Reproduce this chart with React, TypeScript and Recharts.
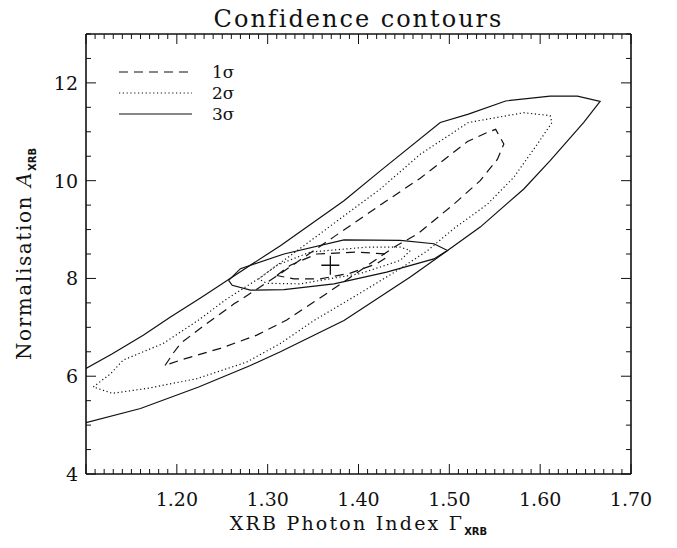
import React from 'react';
import { ScatterChart, Scatter, XAxis, YAxis, Legend } from 'recharts';

// big confidence regions (gamma vs normalisation)
const sigma1 = [
  { x: 1.187, y: 6.22 }, { x: 1.196, y: 6.47 }, { x: 1.204, y: 6.67 }, { x: 1.233, y: 7.08 },
  { x: 1.263, y: 7.48 }, { x: 1.288, y: 7.78 }, { x: 1.314, y: 8.10 }, { x: 1.372, y: 8.84 },
  { x: 1.431, y: 9.59 }, { x: 1.468, y: 10.05 }, { x: 1.520, y: 10.80 }, { x: 1.542, y: 10.99 },
  { x: 1.551, y: 11.05 }, { x: 1.560, y: 10.75 }, { x: 1.553, y: 10.44 }, { x: 1.534, y: 10.00 },
  { x: 1.505, y: 9.52 }, { x: 1.465, y: 8.91 }, { x: 1.439, y: 8.64 }, { x: 1.380, y: 7.88 },
  { x: 1.321, y: 7.15 }, { x: 1.288, y: 6.84 }, { x: 1.248, y: 6.57 }, { x: 1.204, y: 6.33 },
  { x: 1.187, y: 6.22 },
];

const sigma2 = [
  { x: 1.108, y: 5.78 }, { x: 1.127, y: 6.05 }, { x: 1.141, y: 6.33 }, { x: 1.185, y: 6.67 },
  { x: 1.224, y: 7.15 }, { x: 1.255, y: 7.58 }, { x: 1.292, y: 8.02 }, { x: 1.350, y: 8.81 },
  { x: 1.424, y: 9.83 }, { x: 1.468, y: 10.54 }, { x: 1.521, y: 11.19 }, { x: 1.582, y: 11.39 },
  { x: 1.611, y: 11.33 }, { x: 1.613, y: 11.19 }, { x: 1.597, y: 10.75 }, { x: 1.571, y: 10.07 },
  { x: 1.542, y: 9.52 }, { x: 1.505, y: 9.02 }, { x: 1.476, y: 8.57 }, { x: 1.446, y: 8.20 },
  { x: 1.400, y: 7.68 }, { x: 1.351, y: 7.14 }, { x: 1.314, y: 6.67 }, { x: 1.277, y: 6.29 },
  { x: 1.222, y: 5.95 }, { x: 1.167, y: 5.75 }, { x: 1.129, y: 5.65 }, { x: 1.108, y: 5.78 },
];

const sigma3 = [
  { x: 1.100, y: 6.16 }, { x: 1.129, y: 6.46 }, { x: 1.163, y: 6.84 }, { x: 1.193, y: 7.21 },
  { x: 1.226, y: 7.60 }, { x: 1.257, y: 7.98 }, { x: 1.314, y: 8.67 }, { x: 1.384, y: 9.59 },
  { x: 1.424, y: 10.20 }, { x: 1.490, y: 11.19 }, { x: 1.521, y: 11.36 }, { x: 1.562, y: 11.63 },
  { x: 1.611, y: 11.73 }, { x: 1.641, y: 11.73 }, { x: 1.666, y: 11.62 }, { x: 1.648, y: 11.19 },
  { x: 1.611, y: 10.41 }, { x: 1.582, y: 9.83 }, { x: 1.534, y: 9.05 }, { x: 1.498, y: 8.57 },
  { x: 1.457, y: 8.03 }, { x: 1.384, y: 7.14 }, { x: 1.314, y: 6.50 }, { x: 1.281, y: 6.22 },
  { x: 1.224, y: 5.78 }, { x: 1.160, y: 5.34 }, { x: 1.100, y: 5.05 },
];

// small ellipses around the best fit
const ell1 = [
  { x: 1.310, y: 8.06 }, { x: 1.325, y: 8.27 }, { x: 1.354, y: 8.50 }, { x: 1.398, y: 8.54 },
  { x: 1.430, y: 8.50 }, { x: 1.431, y: 8.43 }, { x: 1.420, y: 8.30 }, { x: 1.391, y: 8.11 },
  { x: 1.358, y: 7.99 }, { x: 1.329, y: 7.99 }, { x: 1.310, y: 8.06 },
];

const ell2 = [
  { x: 1.290, y: 7.99 }, { x: 1.310, y: 8.27 }, { x: 1.347, y: 8.54 }, { x: 1.409, y: 8.64 },
  { x: 1.446, y: 8.64 }, { x: 1.457, y: 8.57 }, { x: 1.446, y: 8.37 }, { x: 1.402, y: 8.10 },
  { x: 1.336, y: 7.89 }, { x: 1.299, y: 7.90 }, { x: 1.290, y: 7.99 },
];

const ell3 = [
  { x: 1.257, y: 7.96 }, { x: 1.270, y: 8.20 }, { x: 1.318, y: 8.50 }, { x: 1.384, y: 8.79 },
  { x: 1.446, y: 8.78 }, { x: 1.483, y: 8.71 }, { x: 1.498, y: 8.57 }, { x: 1.483, y: 8.40 },
  { x: 1.431, y: 8.13 }, { x: 1.373, y: 7.89 }, { x: 1.318, y: 7.77 }, { x: 1.281, y: 7.76 },
  { x: 1.261, y: 7.86 }, { x: 1.257, y: 7.96 },
];

const bestFit = [{ x: 1.369, y: 8.27 }];

const xMajor = [1.1, 1.2, 1.3, 1.4, 1.5, 1.6, 1.7];
const xLabels = ['', '1.20', '1.30', '1.40', '1.50', '1.60', '1.70'];
const yMajor = [4, 6, 8, 10, 12];
const yLabels = ['4', '6', '8', '10', '12'];

const legendItems = [
  { label: '1σ', dash: '9 6' },
  { label: '2σ', dash: '1.2 2.6' },
  { label: '3σ', dash: undefined },
];

const FONT = 'DejaVu Serif';
const INK = '#111';
const DASH1 = '9 6';
const DOT2 = '1.2 2.6';

const xTicks: number[] = [];
for (let i = 110; i <= 170; i++) xTicks.push(i / 100);
const yTicks: number[] = [];
for (let i = 8; i <= 26; i++) yTicks.push(i / 2);

const xLabelOf = (v: number) => xMajor.findIndex((m) => Math.abs(m - v) < 1e-6);
const yLabelOf = (v: number) => yMajor.findIndex((m) => Math.abs(m - v) < 1e-6);

const BottomTick = (props: any) => {
  const { x, y, payload } = props;
  const idx = xLabelOf(payload.value);
  const major = idx >= 0;
  return (
    <g>
      <line x1={x} x2={x} y1={y} y2={y - (major ? 10 : 5)} stroke={INK} strokeWidth={1} />
      {major && xLabels[idx] && (
        <text x={x} y={y + 32} textAnchor="middle" fontFamily={FONT} fontSize={19} fill={INK}>
          {xLabels[idx]}
        </text>
      )}
    </g>
  );
};

const TopTick = (props: any) => {
  const { x, y, payload } = props;
  const major = xLabelOf(payload.value) >= 0;
  return <line x1={x} x2={x} y1={y} y2={y + (major ? 10 : 5)} stroke={INK} strokeWidth={1} />;
};

const LeftTick = (props: any) => {
  const { x, y, payload } = props;
  const idx = yLabelOf(payload.value);
  const major = idx >= 0;
  return (
    <g>
      <line x1={x} x2={x + (major ? 10 : 5)} y1={y} y2={y} stroke={INK} strokeWidth={1} />
      {major && (
        <text x={x - 8} y={y + 7} textAnchor="end" fontFamily={FONT} fontSize={19} fill={INK}>
          {yLabels[idx]}
        </text>
      )}
    </g>
  );
};

const RightTick = (props: any) => {
  const { x, y, payload } = props;
  const major = yLabelOf(payload.value) >= 0;
  return <line x1={x} x2={x - (major ? 10 : 5)} y1={y} y2={y} stroke={INK} strokeWidth={1} />;
};

const noPoint = () => <g />;

const Cross = (props: any) => {
  const { cx, cy } = props;
  return (
    <path d={`M${cx - 9},${cy}H${cx + 9}M${cx},${cy - 9.5}V${cy + 9.5}`} stroke={INK} strokeWidth={1.3} fill="none" />
  );
};

const TitleLabel = (props: any) => {
  const { viewBox } = props;
  return (
    <text x={viewBox.x + viewBox.width / 2} y={viewBox.y - 6} textAnchor="middle" fontFamily={FONT} fontSize={24} letterSpacing={2} fill={INK}>
      Confidence contours
    </text>
  );
};

const XTitle = (props: any) => {
  const { viewBox } = props;
  return (
    <text x={viewBox.x + viewBox.width / 2} y={viewBox.y + 56} textAnchor="middle" fontFamily={FONT} fontSize={19} letterSpacing={2.2} fill={INK}>
      XRB Photon Index Γ
      <tspan fontSize={10} fontWeight="bold" fontFamily="DejaVu Sans" letterSpacing={0} dy={5}>XRB</tspan>
    </text>
  );
};

const YTitle = (props: any) => {
  const { viewBox } = props;
  const cx = viewBox.x + viewBox.width - 55;
  const cy = viewBox.y + viewBox.height / 2;
  return (
    <text x={cx} y={cy} transform={`rotate(-90 ${cx} ${cy})`} textAnchor="middle" fontFamily={FONT} fontSize={20} letterSpacing={1.6} fill={INK}>
      Normalisation <tspan fontStyle="italic">A</tspan>
      <tspan fontSize={10} fontWeight="bold" fontFamily="DejaVu Sans" letterSpacing={0} dy={5}>XRB</tspan>
    </text>
  );
};

const LegendBox = () => (
  <svg width={170} height={70}>
    {legendItems.map((it, i) => (
      <g key={it.label}>
        <line x1={11} x2={84} y1={14 + i * 21} y2={14 + i * 21} stroke={INK} strokeWidth={1.2} strokeDasharray={it.dash} />
        <text x={104} y={20 + i * 21} fontFamily={FONT} fontSize={17} fill={INK}>
          {it.label}
        </text>
      </g>
    ))}
  </svg>
);

const App = () => {
  return (
    <div style={{ position: 'absolute', left: 0, top: 0 }}>
      <ScatterChart width={677} height={548} margin={{ top: 33, right: 45, bottom: 73, left: 85 }}>
        <XAxis
          xAxisId="b"
          dataKey="x"
          type="number"
          domain={[1.1, 1.7]}
          ticks={xTicks}
          interval={0}
          height={1}
          tickSize={0}
          tickMargin={0}
          tick={<BottomTick />}
          axisLine={{ stroke: INK, strokeWidth: 1.6 }}
          allowDataOverflow
          label={<XTitle />}
        />
        <XAxis
          xAxisId="t"
          orientation="top"
          dataKey="x"
          type="number"
          domain={[1.1, 1.7]}
          ticks={xTicks}
          interval={0}
          height={1}
          tickSize={0}
          tickMargin={0}
          tick={<TopTick />}
          axisLine={{ stroke: INK, strokeWidth: 1.6 }}
          allowDataOverflow
          label={<TitleLabel />}
        />
        <YAxis
          yAxisId="l"
          dataKey="y"
          type="number"
          domain={[4, 13]}
          ticks={yTicks}
          interval={0}
          width={1}
          tickSize={0}
          tickMargin={0}
          tick={<LeftTick />}
          axisLine={{ stroke: INK, strokeWidth: 1.6 }}
          allowDataOverflow
          label={<YTitle />}
        />
        <YAxis
          yAxisId="r"
          orientation="right"
          dataKey="y"
          type="number"
          domain={[4, 13]}
          ticks={yTicks}
          interval={0}
          width={1}
          tickSize={0}
          tickMargin={0}
          tick={<RightTick />}
          axisLine={{ stroke: INK, strokeWidth: 1.6 }}
          allowDataOverflow
        />
        <Scatter name="3 sigma" data={sigma3} xAxisId="b" yAxisId="l" shape={noPoint} line={{ stroke: INK, strokeWidth: 1.2 }} isAnimationActive={false} />
        <Scatter name="2 sigma" data={sigma2} xAxisId="b" yAxisId="l" shape={noPoint} line={{ stroke: INK, strokeWidth: 1.2, strokeDasharray: DOT2 }} isAnimationActive={false} />
        <Scatter name="1 sigma" data={sigma1} xAxisId="b" yAxisId="l" shape={noPoint} line={{ stroke: INK, strokeWidth: 1.2, strokeDasharray: DASH1 }} isAnimationActive={false} />
        <Scatter name="ellipse 3" data={ell3} xAxisId="b" yAxisId="l" shape={noPoint} line={{ stroke: INK, strokeWidth: 1.2 }} isAnimationActive={false} />
        <Scatter name="ellipse 2" data={ell2} xAxisId="b" yAxisId="l" shape={noPoint} line={{ stroke: INK, strokeWidth: 1.2, strokeDasharray: DOT2 }} isAnimationActive={false} />
        <Scatter name="ellipse 1" data={ell1} xAxisId="b" yAxisId="l" shape={noPoint} line={{ stroke: INK, strokeWidth: 1.2, strokeDasharray: DASH1 }} isAnimationActive={false} />
        <Scatter name="best fit" data={bestFit} xAxisId="b" yAxisId="l" shape={<Cross />} isAnimationActive={false} />
        <Legend
          layout="horizontal"
          verticalAlign="middle"
          align="center"
          content={<LegendBox />}
          wrapperStyle={{ position: 'absolute', left: 108, top: 58, width: 170, height: 70 }}
        />
      </ScatterChart>
    </div>
  );
};

export default App;
